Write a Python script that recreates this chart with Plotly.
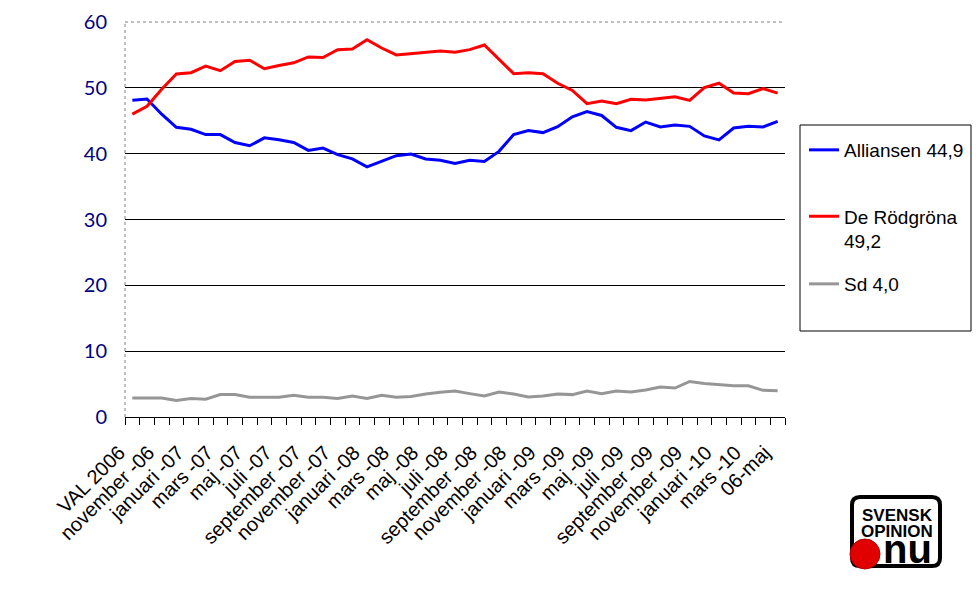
import plotly.graph_objects as go

tick_labels = ["VAL 2006", "november -06", "januari -07", "mars -07", "maj -07", "juli -07",
               "september -07", "november -07", "januari -08", "mars -08", "maj -08", "juli -08",
               "september -08", "november -08", "januari -09", "mars -09", "maj -09", "juli -09",
               "september -09", "november -09", "januari -10", "mars -10", "06-maj"]

alliansen = [48.1, 48.3, 46.0, 44.0, 43.7, 42.9, 42.9, 41.7, 41.2, 42.4, 42.1, 41.7, 40.5, 40.85,
             39.85, 39.2, 38.0, 38.8, 39.7, 39.95, 39.2, 39.0, 38.5, 39.0, 38.8, 40.35, 42.9, 43.5,
             43.2, 44.1, 45.6, 46.4, 45.8, 44.0, 43.5, 44.8, 44.05, 44.35, 44.15, 42.7, 42.1, 43.9,
             44.15, 44.05, 44.9]
rodgrona = [46.0, 47.2, 49.8, 52.1, 52.3, 53.3, 52.6, 54.0, 54.2, 52.9, 53.4, 53.8, 54.7, 54.6,
            55.8, 55.9, 57.3, 56.05, 55.0, 55.2, 55.4, 55.6, 55.4, 55.8, 56.5, 54.3, 52.15, 52.3,
            52.15, 50.7, 49.6, 47.6, 48.0, 47.6, 48.25, 48.15, 48.45, 48.65, 48.1, 50.05, 50.7,
            49.2, 49.1, 49.9, 49.2]
sd = [2.9, 2.9, 2.9, 2.5, 2.8, 2.7, 3.4, 3.4, 3.0, 3.0, 3.0, 3.3, 3.0, 3.0, 2.8, 3.2, 2.8, 3.3,
      3.0, 3.1, 3.5, 3.75, 3.95, 3.55, 3.2, 3.8, 3.5, 3.05, 3.2, 3.5, 3.4, 3.95, 3.55, 3.95, 3.8,
      4.1, 4.55, 4.4, 5.4, 5.1, 4.9, 4.75, 4.75, 4.05, 4.0]

series_names = ["Alliansen 44,9", "De Rödgröna<br>49,2", "Sd 4,0"]
series_colors = ["#0000FF", "#FF0000", "#969696"]

x = list(range(len(alliansen)))
tick_pos = x[::2]

W, H = 976, 598
PL, PR, PT, PB = 125, 785, 22, 417


def fx(px):
    return (px - PL) / (PR - PL)


def fy(py):
    return (PB - py) / (PB - PT)


FONT = "Liberation Sans, Arial, sans-serif"

fig = go.Figure()
for i, (vals, name, col) in enumerate(zip([alliansen, rodgrona, sd], series_names, series_colors)):
    fig.add_trace(go.Scatter(x=x, y=vals, mode="lines", name=name,
                             line=dict(color=col, width=3),
                             legend="legend" if i == 0 else f"legend{i+1}"))

legend_common = dict(font=dict(family=FONT, size=19, color="black"),
                     bgcolor="rgba(0,0,0,0)", borderwidth=0, xanchor="left",
                     itemwidth=30)

fig.update_layout(
    width=W, height=H,
    margin=dict(l=PL, r=W - PR, t=PT, b=H - PB, autoexpand=False),
    paper_bgcolor="white", plot_bgcolor="white",
    showlegend=True,
    legend=dict(**legend_common, x=fx(804), y=fy(150), yanchor="middle"),
    legend2=dict(**legend_common, x=fx(804), y=fy(229), yanchor="middle", valign="top"),
    legend3=dict(**legend_common, x=fx(804), y=fy(284), yanchor="middle"),
    xaxis=dict(range=[-0.5, len(x) - 0.5], tickmode="array", tickvals=tick_pos,
               ticktext=tick_labels, tickangle=-45, ticks="", showline=True,
               linecolor="black", linewidth=1, showgrid=False, zeroline=False,
               ticklabelstandoff=15, ticklabelshift=-13,
               tickfont=dict(family=FONT, size=20, color="black"),
               minor=dict(tickmode="array", tickvals=[i - 0.5 for i in range(len(x) + 1)],
                          ticks="outside", ticklen=7, tickcolor="black", tickwidth=1,
                          showgrid=False)),
    yaxis=dict(range=[0, 60], tickmode="array", tickvals=list(range(0, 61, 10)),
               ticks="", showgrid=False, zeroline=False, showline=False,
               ticklabelstandoff=17,
               tickfont=dict(family="Lato, DejaVu Sans, sans-serif", size=20, color="#000080"),
               minor=dict(tickmode="array", tickvals=[10, 20, 30, 40, 50], showgrid=True,
                          gridcolor="black", gridwidth=1, ticks="")),
    yaxis2=dict(range=[0, 60], overlaying="y", side="right", tickmode="array",
                tickvals=list(range(0, 61, 10)), ticks="outside", ticklen=6,
                tickcolor="black", showline=True, linecolor="black", linewidth=1.5,
                showticklabels=False, showgrid=False, zeroline=False),
)

shapes = [
    dict(type="line", xref="paper", yref="paper", x0=0, x1=0, y0=0, y1=1,
         line=dict(color="#808080", width=1, dash="dot"), layer="below"),
    dict(type="line", xref="paper", yref="paper", x0=0, x1=1, y0=1, y1=1,
         line=dict(color="#808080", width=1, dash="dot"), layer="below"),
    dict(type="rect", xref="paper", yref="paper", x0=fx(800), x1=fx(971), y0=fy(331), y1=fy(125),
         line=dict(color="black", width=1), fillcolor="rgba(0,0,0,0)"),
]

# logo: rounded box
bx0, bx1, by0, by1, r = 852, 940, 497, 566, 8
pts = (f"M {fx(bx0 + r)},{fy(by0)} L {fx(bx1 - r)},{fy(by0)} Q {fx(bx1)},{fy(by0)} {fx(bx1)},{fy(by0 + r)} "
       f"L {fx(bx1)},{fy(by1 - r)} Q {fx(bx1)},{fy(by1)} {fx(bx1 - r)},{fy(by1)} "
       f"L {fx(bx0 + r)},{fy(by1)} Q {fx(bx0)},{fy(by1)} {fx(bx0)},{fy(by1 - r)} "
       f"L {fx(bx0)},{fy(by0 + r)} Q {fx(bx0)},{fy(by0)} {fx(bx0 + r)},{fy(by0)} Z")
shapes.append(dict(type="path", xref="paper", yref="paper", path=pts,
                   line=dict(color="black", width=4), fillcolor="white"))
shapes.append(dict(type="circle", xref="paper", yref="paper", x0=fx(850), x1=fx(880),
                   y0=fy(569), y1=fy(539), line=dict(color="#b00000", width=1),
                   fillcolor="#e00000"))
fig.update_layout(shapes=shapes)

logo_texts = [("<b>SVENSK</b>", 897, 515, 17),
              ("<b>OPINION</b>", 897, 531, 17),
              ("<b>nu</b>", 907, 549, 40)]
for txt, px, py, sz in logo_texts:
    fig.add_annotation(x=fx(px), y=fy(py), xref="paper", yref="paper", text=txt,
                       xanchor="center", yanchor="middle", showarrow=False,
                       font=dict(family=FONT, size=sz, color="black"))

fig.write_html("out.html")
